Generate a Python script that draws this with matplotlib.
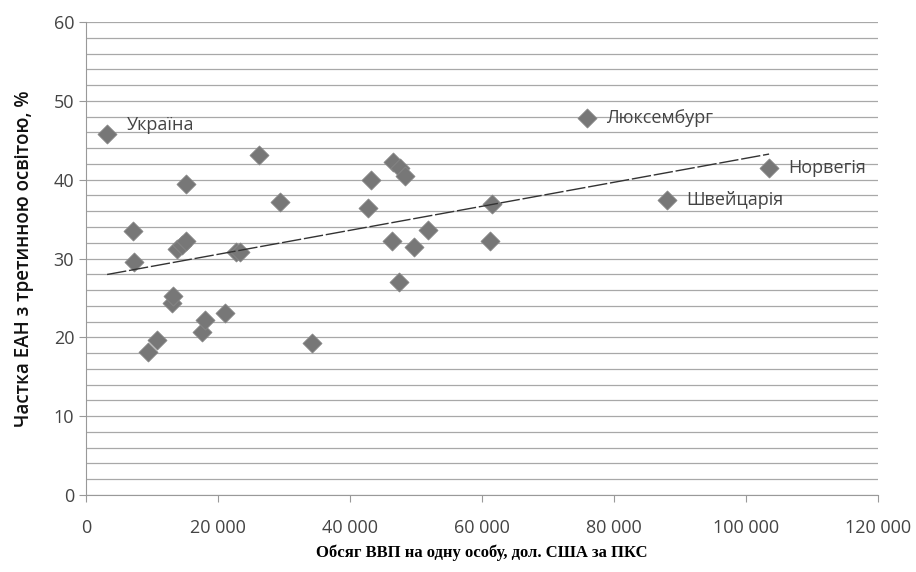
import numpy as np
from matplotlib import pyplot as plt

# ВВП на особу (дол. США за ПКС) і частка ЕАН з третинною освітою, %
gdp = [3200, 7100, 7300, 9400, 10800, 13000, 13200, 13800, 14500, 15200,
       15200, 17600, 18000, 21000, 22700, 23300, 26200, 29400, 34200, 42700,
       43200, 46400, 46500, 47600, 48300, 47400, 49700, 51800, 61200, 61500,
       75900, 103500, 88000]
share = [45.8, 33.5, 29.6, 18.1, 19.7, 24.4, 25.2, 31.2, 31.7, 32.2,
         39.5, 20.7, 22.2, 23.1, 30.8, 30.8, 43.1, 37.2, 19.3, 36.4,
         40.0, 32.2, 42.3, 41.5, 40.5, 27.0, 31.5, 33.6, 32.2, 36.9,
         47.8, 41.5, 37.4]

labels = {0: "Україна", 30: "Люксембург", 31: "Норвегія", 32: "Швейцарія"}

x_ticks = [0, 20000, 40000, 60000, 80000, 100000, 120000]
x_ticklabels = ["0", "20 000", "40 000", "60 000", "80 000", "100 000", "120 000"]

fig = plt.figure(figsize=(9.16, 5.72), dpi=100)
ax = fig.add_axes([86/916, 1-495/572, (878-86)/916, (495-22)/572])

ax.set_xlim(0, 120000)
ax.set_ylim(0, 60)
ax.set_yticks(np.arange(0, 61, 10))
ax.set_yticks(np.arange(0, 61, 2), minor=True)
ax.set_xticks(x_ticks)
ax.set_xticklabels(x_ticklabels)
ax.grid(axis='y', which='both', color='#a8a8a8', lw=0.9)
ax.set_axisbelow(True)
for s in ['top', 'right']:
    ax.spines[s].set_visible(False)
ax.spines['left'].set_color('#999999')
ax.spines['bottom'].set_color('#999999')
ax.tick_params(which='minor', left=False)
ax.tick_params(colors='#999999', labelcolor='#444444', labelsize=13, length=5)
ax.tick_params(axis='x', pad=12)
for t in ax.get_xticklabels() + ax.get_yticklabels():
    t.set_family('Open Sans')

ax.scatter(gdp, share, marker='D', s=95, color='#777777', edgecolors='#888888',
           linewidths=0.5, zorder=3)

# лінійний тренд
k, b = np.polyfit(gdp, share, 1)
xt = np.array([min(gdp), max(gdp)])
ax.plot(xt, k*xt + b, color='#333333', lw=1, ls=(0, (14, 2)), zorder=4)

for i, name in labels.items():
    ax.annotate(name, (gdp[i], share[i]), xytext=(14, 0), textcoords='offset points',
                va='bottom' if i == 0 else 'center', fontsize=13,
                color='#444444', family='Open Sans')

ax.set_ylabel("Частка ЕАН з третинною освітою, %", fontsize=13.5, family='Open Sans',
              color='#111111', fontweight='semibold', labelpad=14)
ax.set_xlabel("Обсяг ВВП на одну особу, дол. США за ПКС", fontsize=12,
              family='Liberation Serif', fontweight='bold', labelpad=6)

fig.savefig("out.png", dpi=100)
